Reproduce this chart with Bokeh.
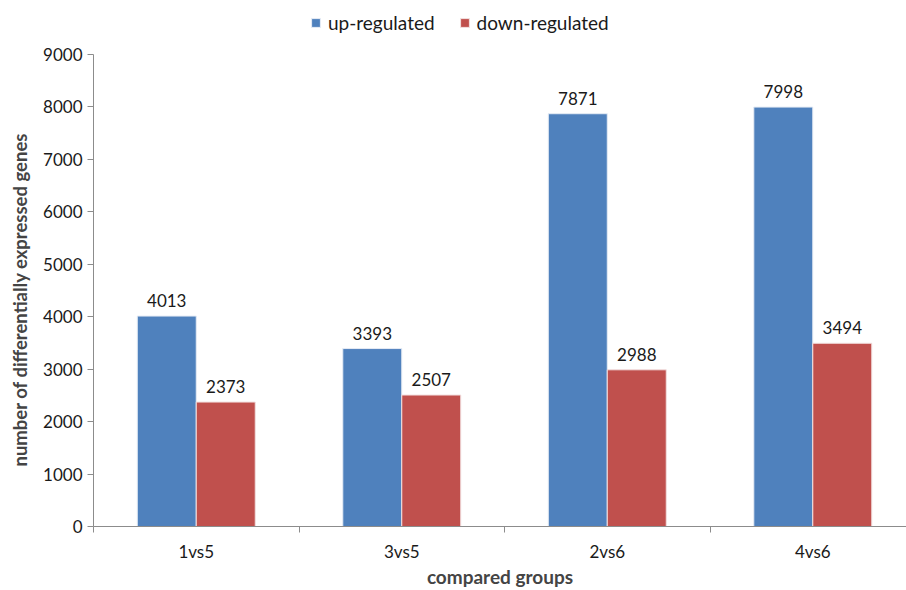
from bokeh.plotting import figure
from bokeh.models import FixedTicker, Legend, LegendItem, ColumnDataSource
from bokeh.core.properties import value
from bokeh.embed import file_html
from bokeh.resources import INLINE

groups = ["1vs5", "3vs5", "2vs6", "4vs6"]
up_regulated = [4013, 3393, 7871, 7998]
down_regulated = [2373, 2507, 2988, 3494]
y_ticks = [0, 1000, 2000, 3000, 4000, 5000, 6000, 7000, 8000, 9000]

BLUE = "#4F81BD"
RED = "#C0504D"
FONT = "Lato"
BW = 0.287

centers = [i + 0.5 for i in range(len(groups))]
up_x = [c - BW / 2 for c in centers]
down_x = [c + BW / 2 for c in centers]

p = figure(width=906, height=590, output_backend="svg", toolbar_location=None,
           x_range=(0, 3.956), y_range=(0, 10030),
           min_border_left=93, min_border_right=0, min_border_top=0, min_border_bottom=64)
p.outline_line_color = None
p.xgrid.visible = False
p.ygrid.visible = False

src_up = ColumnDataSource(dict(x=up_x, top=up_regulated, lbl=[str(v) for v in up_regulated]))
src_dn = ColumnDataSource(dict(x=down_x, top=down_regulated, lbl=[str(v) for v in down_regulated]))

r_up = p.vbar(x="x", top="top", width=BW, source=src_up, fill_color=BLUE, line_color="#E6ECF5", line_width=1)
r_dn = p.vbar(x="x", top="top", width=BW, source=src_dn, fill_color=RED, line_color="#F2E0E0", line_width=1)

for s in (src_up, src_dn):
    p.text(x="x", y="top", text="lbl", source=s, text_align="center", text_baseline="bottom",
           y_offset=-9, text_font=value(FONT), text_font_size="17px", text_color="#1a1a1a")

axis_color = "#8C8C8C"
# x axis
xt = FixedTicker(ticks=centers, minor_ticks=[0, 1, 2, 3, 4])
p.xaxis.ticker = xt
p.xaxis.major_label_overrides = {c: g for c, g in zip(centers, groups)}
p.xaxis.major_tick_out = 0
p.xaxis.major_tick_in = 0
p.xaxis.minor_tick_out = 6
p.xaxis.minor_tick_in = 0
p.xaxis.minor_tick_line_color = axis_color
p.xaxis.axis_line_color = axis_color
p.xaxis.major_label_standoff = 8
p.xaxis.major_label_text_font = FONT
p.xaxis.major_label_text_font_size = "17px"
p.xaxis.major_label_text_color = "#1a1a1a"
p.xaxis.axis_label = "compared groups"
p.xaxis.axis_label_text_font = FONT
p.xaxis.axis_label_text_font_style = "bold"
p.xaxis.axis_label_text_font_size = "19px"
p.xaxis.axis_label_standoff = 0

# y axis
p.yaxis.ticker = FixedTicker(ticks=y_ticks)
p.yaxis.bounds = (0, 9000)
p.yaxis.major_tick_out = 6
p.yaxis.major_tick_in = 0
p.yaxis.minor_tick_out = 0
p.yaxis.minor_tick_in = 0
p.yaxis.major_tick_line_color = axis_color
p.yaxis.axis_line_color = axis_color
p.yaxis.major_label_standoff = 5
p.yaxis.major_label_text_font = FONT
p.yaxis.major_label_text_font_size = "17px"
p.yaxis.major_label_text_color = "#1a1a1a"
# trailing non-breaking spaces nudge the rotated label down toward the 0-9000 span's middle
p.yaxis.axis_label = "number of differentially expressed genes" + "\u00a0" * 16
p.yaxis.axis_label_text_font = FONT
p.yaxis.axis_label_text_font_style = "bold"
p.yaxis.axis_label_text_font_size = "18.5px"
p.yaxis.axis_label_standoff = 9

legend = Legend(items=[LegendItem(label="up-regulated", renderers=[r_up]),
                       LegendItem(label="down-regulated", renderers=[r_dn])],
                orientation="horizontal", location=(217, 492),
                label_text_font=FONT, label_text_font_size="19px", label_text_color="#1a1a1a",
                glyph_width=11, glyph_height=11, spacing=24, label_standoff=7,
                border_line_color=None, background_fill_alpha=0, padding=0, margin=0)
p.add_layout(legend, "center")

open("out.html", "w").write(file_html(p, INLINE))
